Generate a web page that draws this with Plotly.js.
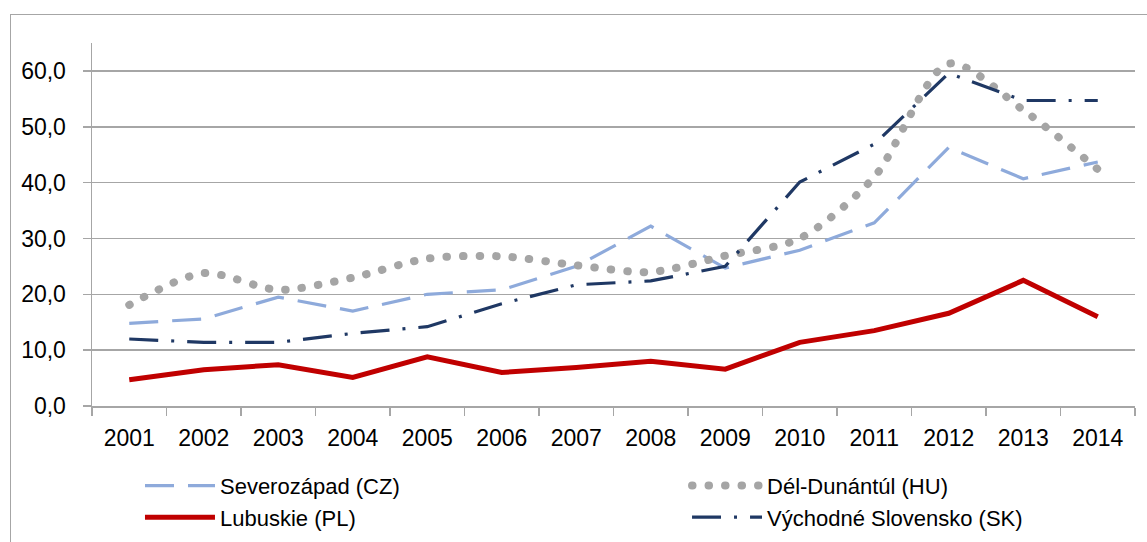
<!DOCTYPE html>
<html>
<head>
<meta charset="utf-8">
<script src="https://cdn.plot.ly/plotly-3.0.1.min.js"></script>
<style>
  html, body { margin: 0; padding: 0; overflow: hidden; background: #fff; }
  #wrap { position: relative; width: 1147px; height: 542px; overflow: hidden; }
  #chart { width: 1147px; height: 542px; }
  #frame { position: absolute; left: 10px; top: 14px; width: 1300px; height: 700px;
           border-left: 1.5px solid #a6a6a6; border-top: 1.5px solid #a6a6a6; pointer-events: none; }
  path.js-line[style*="0.5px"] { stroke-linecap: round; }
</style>
</head>
<body>
<div id="wrap">
  <div id="chart"></div>
  <div id="frame"></div>
</div>
<script>
const years = ['2001','2002','2003','2004','2005','2006','2007','2008','2009','2010','2011','2012','2013','2014'];
const seriesNames = ['Severozápad (CZ)', 'Dél-Dunántúl (HU)', 'Lubuskie (PL)', 'Východné Slovensko (SK)'];
const severozapadCZ = [14.8, 15.6, 19.5, 17.0, 20.0, 20.8, 25.0, 32.2, 24.7, 27.9, 32.8, 46.3, 40.7, 43.7];
const delDunantulHU = [18.1, 23.8, 20.8, 23.0, 26.4, 26.8, 25.2, 24.0, 26.9, 30.0, 41.0, 61.3, 53.0, 42.4];
const lubuskiePL    = [4.7, 6.5, 7.4, 5.1, 8.8, 6.0, 6.9, 8.0, 6.6, 11.4, 13.5, 16.6, 22.5, 16.0];
const vychodneSK    = [12.0, 11.4, 11.4, 13.0, 14.2, 18.3, 21.7, 22.4, 25.0, 40.1, 46.9, 59.6, 54.7, 54.7];
const yTicks = [0, 10, 20, 30, 40, 50, 60];

const FONT = 'Liberation Sans, Arial, sans-serif';

const traces = [
  { x: years, y: severozapadCZ, name: seriesNames[0], type: 'scatter', mode: 'lines', legend: 'legend',
    line: { color: '#8eaadb', width: 3.2, dash: '29px,14px' } },
  { x: years, y: delDunantulHU, name: seriesNames[1], type: 'scatter', mode: 'lines', legend: 'legend2',
    line: { color: '#a5a5a5', width: 8, dash: '0.5px,16px', shape: 'spline', smoothing: 0.8 } },
  { x: years, y: lubuskiePL, name: seriesNames[2], type: 'scatter', mode: 'lines', legend: 'legend',
    line: { color: '#c00000', width: 5 } },
  { x: years, y: vychodneSK, name: seriesNames[3], type: 'scatter', mode: 'lines', legend: 'legend2',
    line: { color: '#1f3864', width: 3.2, dash: '29px,13px,3px,13px' } }
];

const legendBase = {
  orientation: 'v', xanchor: 'left', y: -0.162, yanchor: 'top', itemwidth: 70,
  font: { family: FONT, size: 22, color: '#000' },
  bgcolor: 'rgba(0,0,0,0)', traceorder: 'normal', tracegroupgap: 0
};

const layout = {
  width: 1147, height: 542,
  margin: { l: 92, r: 12, t: 43, b: 136, autoexpand: false },
  paper_bgcolor: '#ffffff', plot_bgcolor: '#ffffff',
  separators: ', ',
  font: { family: FONT, size: 22, color: '#000000' },
  showlegend: true,
  xaxis: {
    type: 'category', tickson: 'boundaries', range: [-0.5, 13.5],
    showgrid: false, showline: true, linecolor: '#a6a6a6', linewidth: 1.5,
    ticks: 'outside', ticklen: 8, tickcolor: '#a6a6a6', tickwidth: 1.5,
    tickfont: { family: FONT, size: 23, color: '#000' }, ticklabelstandoff: 11,
    fixedrange: true
  },
  yaxis: {
    range: [0, 65], tickmode: 'array', tickvals: yTicks, tickformat: '.1f',
    showgrid: true, gridcolor: '#a6a6a6', gridwidth: 1.5,
    showline: true, linecolor: '#a6a6a6', linewidth: 1.5,
    ticks: 'outside', ticklen: 8, tickcolor: '#a6a6a6', tickwidth: 1.5,
    tickfont: { family: FONT, size: 23, color: '#000' }, ticklabelstandoff: 12,
    zeroline: false, fixedrange: true
  },
  legend: Object.assign({}, legendBase, { x: 0.046 }),
  legend2: Object.assign({}, legendBase, { x: 0.5705 })
};

Plotly.newPlot('chart', traces, layout, { displayModeBar: false, staticPlot: true });
</script>
</body>
</html>
